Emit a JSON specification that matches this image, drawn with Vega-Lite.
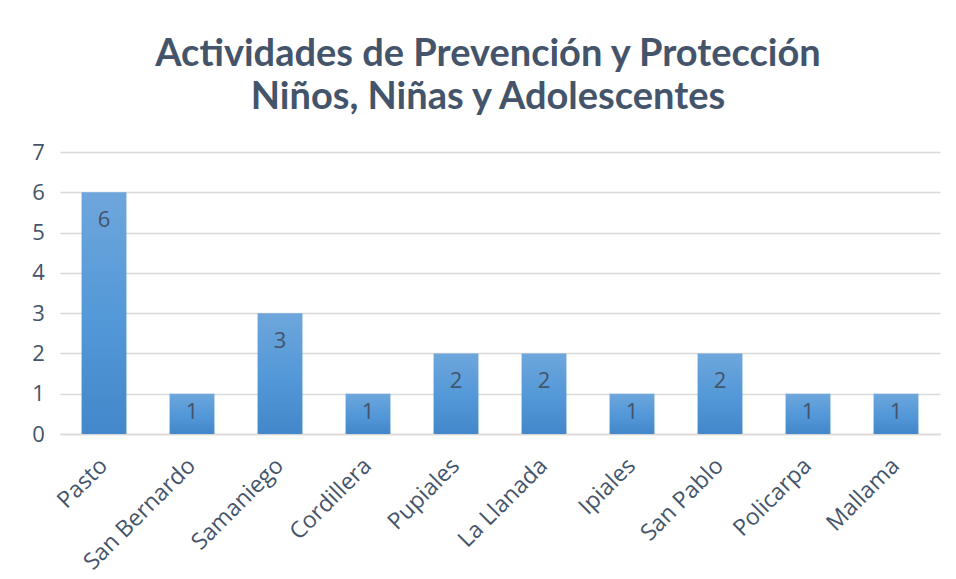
{
  "$schema": "https://vega.github.io/schema/vega-lite/v6.json",
  "width": 880,
  "height": 282,
  "autosize": {"type": "none"},
  "padding": {"left": 60, "top": 152, "right": 16, "bottom": 145},
  "background": "white",
  "title": {
    "text": ["Actividades de Prevención y Protección", "Niños, Niñas y Adolescentes"],
    "anchor": "middle",
    "font": "Lato",
    "fontSize": 38,
    "fontWeight": "bold",
    "color": "#44546A",
    "lineHeight": 43,
    "offset": 24,
    "dx": -12
  },
  "data": {
    "values": [
      {"municipio": "Pasto", "n": 6},
      {"municipio": "San Bernardo", "n": 1},
      {"municipio": "Samaniego", "n": 3},
      {"municipio": "Cordillera", "n": 1},
      {"municipio": "Pupiales", "n": 2},
      {"municipio": "La Llanada", "n": 2},
      {"municipio": "Ipiales", "n": 1},
      {"municipio": "San Pablo", "n": 2},
      {"municipio": "Policarpa", "n": 1},
      {"municipio": "Mallama", "n": 1}
    ]
  },
  "encoding": {
    "x": {
      "field": "municipio",
      "type": "nominal",
      "sort": null,
      "scale": {"paddingInner": 0.49, "paddingOuter": 0.245},
      "axis": {
        "title": null,
        "labelAngle": -45,
        "labelFont": "Open Sans",
        "labelFontSize": 23,
        "labelColor": "#44546A",
        "labelPadding": 20,
        "labelOffset": -8,
        "labelOverlap": false,
        "ticks": false,
        "domainColor": "#D9D9D9",
        "domainWidth": 1.5,
        "grid": false
      }
    },
    "y": {
      "field": "n",
      "type": "quantitative",
      "scale": {"domain": [0, 7]},
      "axis": {
        "title": null,
        "values": [0, 1, 2, 3, 4, 5, 6, 7],
        "labelFont": "Open Sans",
        "labelFontSize": 22,
        "labelColor": "#44546A",
        "labelPadding": 22,
        "labelOverlap": false,
        "labelAlign": "center",
        "ticks": false,
        "domain": false,
        "gridColor": "#D9D9D9",
        "gridWidth": 1.5
      }
    }
  },
  "layer": [
    {
      "mark": {
        "type": "bar",
        "color": {
          "gradient": "linear",
          "x1": 0, "y1": 0, "x2": 0, "y2": 1,
          "stops": [
            {"offset": 0, "color": "#6EA6DC"},
            {"offset": 0.5, "color": "#5499D8"},
            {"offset": 1, "color": "#4288CA"}
          ]
        }
      }
    },
    {
      "transform": [{"filter": "datum.n > 1"}],
      "mark": {
        "type": "text",
        "font": "Open Sans",
        "fontSize": 22,
        "color": "#44546A",
        "baseline": "middle",
        "dy": 28
      },
      "encoding": {
        "text": {"field": "n", "type": "quantitative"}
      }
    },
    {
      "transform": [{"filter": "datum.n <= 1"}],
      "mark": {
        "type": "text",
        "font": "Open Sans",
        "fontSize": 22,
        "color": "#44546A",
        "baseline": "middle",
        "dy": 18
      },
      "encoding": {
        "text": {"field": "n", "type": "quantitative"}
      }
    }
  ],
  "config": {"view": {"stroke": null}}
}
